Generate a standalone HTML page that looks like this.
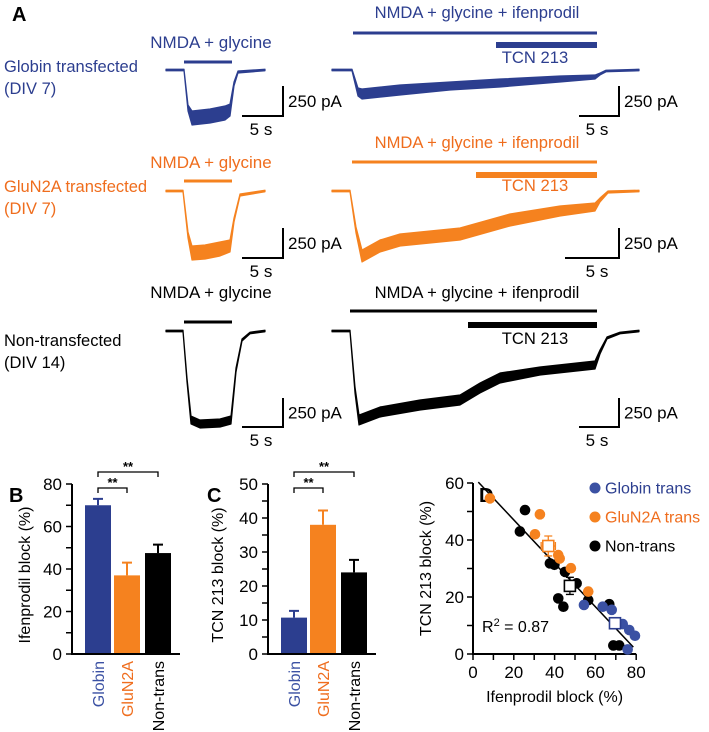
<!DOCTYPE html>
<html><head><meta charset="utf-8">
<style>
html,body{margin:0;padding:0;background:#fff;}
svg{display:block;font-family:"Liberation Sans",Arial,sans-serif;}
</style></head>
<body>
<svg id="fig" width="709" height="732" viewBox="0 0 709 732" xmlns="http://www.w3.org/2000/svg">
<g id="panelA"></g>
<g id="panelB"></g>
<g id="panelC"></g>
<g id="panelD"></g>
</svg>
<script>
// ---- Panel B/C data ----
const barCategories = ["Globin", "GluN2A", "Non-trans"];
const ifenMeans = [70, 37, 47.5];
const ifenErrors = [3, 6, 4];
const tcnMeans = [10.7, 38, 24];
const tcnErrors = [2, 4.2, 3.7];
const ifenTicks = [0, 20, 40, 60, 80];
const tcnTicks = [0, 10, 20, 30, 40, 50];
// ---- Panel D data ----
const globinX = [54.4, 63.6, 68, 73.4, 76.6, 79.4, 75.8];
const globinY = [17.2, 16.6, 15.5, 10.5, 8.4, 6.4, 1.6];
const glun2aX = [8.3, 32.8, 30.4, 41.8, 42.5, 48, 56.5];
const glun2aY = [54.6, 49, 42, 34.7, 33.5, 30.1, 21.9];
const nontransX = [25.5, 23, 37.7, 39.9, 45.1, 50.8, 41.8, 44.3, 56.5, 66.8, 68.8, 71.7];
const nontransY = [50.5, 43, 31.8, 31.3, 28.8, 24.8, 19.5, 16.6, 18.9, 17.5, 3, 3];
const meanX = [69.6, 36.9, 47.5];
const meanY = [10.8, 37.9, 23.9];
const meanXErr = [2.5, 3.5, 2];
const meanYErr = [1.5, 3.5, 3];
const fitLine = [[2.6, 60.3], [78.6, 2.4]];
const dXTicks = [0, 20, 40, 60, 80];
const dYTicks = [0, 20, 40, 60];

const NS = "http://www.w3.org/2000/svg";
function mk(parent, tag, attrs, text) {
  const e = document.createElementNS(NS, tag);
  for (const k in attrs) e.setAttribute(k, attrs[k]);
  if (text !== undefined) e.textContent = text;
  parent.appendChild(e);
  return e;
}
const BLUE = "#2c3e8f", BLUE_T = "#3b51a3", ORANGE = "#f5821f", ORANGE_T = "#ef6d1d", BLACK = "#000";

// ---------- Panel A ----------
const A = document.getElementById("panelA");
let t = mk(A, "text", {x: 12, y: 21, "font-size": 20, "font-weight": "bold"}, "A");



const rows = [
  {color: BLUE, tcol: BLUE, name: "globin", label: ["Globin transfected", " (DIV 7)"], ly: 72,
   left: [[166,70,0.8],[184,70,0.8],[188,108,3],[192,118,7],[210,116,7],[225,113,7],[230,110,6],[234,84,2],[238,72,1],[265,70,0.8]],
   right: [[332,70,0.8],[352,70,0.8],[358,92,4],[362,94,5],[400,90,5],[450,86,4],[500,83,4],[560,79,3],[595,77,2],[600,74,1],[606,71,0.8],[639,70,0.8]],
   ltext: 48, lbar: 62, rtext: 18, rbar: 33, tbar: 45, ttext: 63, tcnStart: 496, ifenStart: 353,
   sb: 86, sbBottom: 116, shL: 242, shR: 579},
  {color: ORANGE, tcol: ORANGE_T, name: "glun2a", label: ["GluN2A transfected", "(DIV 7)"], ly: 192,
   left: [[166,191,0.8],[183,191,0.8],[188,235,3],[192,253,7],[205,252,7],[220,249,7],[230,246,6],[234,220,2],[240,195,1],[265,191,0.8]],
   right: [[332,191,0.8],[350,191,0.8],[356,230,3],[362,256,6],[380,246,6],[400,240,6],[460,234,6],[510,220,6],[560,211,5],[595,207,4],[600,200,2],[608,192,1],[639,191,0.8]],
   ltext: 168, lbar: 181, rtext: 148, rbar: 162, tbar: 175, ttext: 191, tcnStart: 476, ifenStart: 352,
   sb: 228, sbBottom: 258, shL: 242, shR: 565},
  {color: BLACK, tcol: BLACK, name: "nontrans", label: ["Non-transfected", "(DIV 14)"], ly: 346,
   left: [[166,331,0.8],[183,331,0.8],[187,380,2],[191,420,4],[200,424,4],[220,423,4],[231,420,4],[236,370,2],[242,340,1],[250,333,0.8],[265,331,0.8]],
   right: [[332,331,0.8],[350,331,0.8],[355,390,3],[359,420,5],[380,412,5],[420,405,5],[460,400,5],[480,388,5],[500,378,5],[540,371,4],[595,365,4],[600,352,2],[607,338,1],[620,333,0.8],[639,331,0.8]],
   ltext: 298, lbar: 322, rtext: 298, rbar: 311, tbar: 325, ttext: 344, tcnStart: 468, ifenStart: 350,
   sb: 398, sbBottom: 427, shL: 242, shR: 579}
];

function tracePath(pts) {
  let up = pts.map(p => p[0] + "," + (p[1] - p[2]).toFixed(1));
  let dn = pts.slice().reverse().map(p => p[0] + "," + (p[1] + p[2]).toFixed(1));
  return "M" + up.join(" L") + " L" + dn.join(" L") + " Z";
}
rows.forEach((r, i) => {
  const g = mk(A, "g", {});
  
  
  r.label.forEach((s, j) => {
    const e = mk(g, "text", {x: 4, y: r.ly + j * 22, "font-size": 16.5, fill: r.tcol, "xml:space": "preserve"}, s);
    
    
  });
  let e = mk(g, "text", {x: 211, y: r.ltext, "font-size": 17, fill: r.tcol, "text-anchor": "middle"}, "NMDA + glycine");
  
  
  e = mk(g, "rect", {x: 184, y: r.lbar - 1.5, width: 48, height: 3, fill: r.color});
  
  
  e = mk(g, "text", {x: 477, y: r.rtext, "font-size": 16.6, fill: r.tcol, "text-anchor": "middle"}, "NMDA + glycine + ifenprodil");
  
  
  e = mk(g, "rect", {x: r.ifenStart, y: r.rbar - 1.5, width: 597 - r.ifenStart, height: 3, fill: r.color});
  
  
  e = mk(g, "rect", {x: r.tcnStart, y: r.tbar - 3, width: 597 - r.tcnStart, height: 6, fill: r.color});
  
  
  e = mk(g, "text", {x: 535, y: r.ttext, "font-size": 16.6, fill: r.tcol, "text-anchor": "middle"}, "TCN 213");
  
  
  [r.left, r.right].forEach((pts, k) => {
    const p = mk(g, "path", {d: tracePath(pts), fill: r.color, stroke: r.color, "stroke-width": 1.2, "stroke-linejoin": "round"});
    
    
  });
  [[283, r.shL], [619, r.shR]].forEach(([vx, hx], k) => {
    const sg = mk(g, "g", {});
    
    
    mk(sg, "path", {d: `M${vx},${r.sb} L${vx},${r.sbBottom} L${hx},${r.sbBottom}`, fill: "none", stroke: "#000", "stroke-width": 2});
    mk(sg, "text", {x: vx + 5, y: (r.sb + r.sbBottom) / 2 + 6, "font-size": 17}, "250 pA");
    mk(sg, "text", {x: vx - 22, y: r.sbBottom + 19, "font-size": 17, "text-anchor": "middle"}, "5 s");
  });
});

// ---------- Bar panels ----------
function barPanel(gid, letter, lx, axisX, yMax, ticks, minorStep, means, errs, title, titleX, brackets) {
  const G = document.getElementById(gid);
  const y0 = 654, yTop = 484;
  const ys = v => y0 - (v / yMax) * (y0 - yTop);
  const bx = [axisX + 13, axisX + 42, axisX + 73];
  const bw = 26;
  const cols = [BLUE, ORANGE, BLACK];
  const tcols = [BLUE_T, ORANGE_T, BLACK];
  let e = mk(G, "text", {x: lx, y: 502, "font-size": 20, "font-weight": "bold"}, letter);
  
  
  means.forEach((m, i) => {
    const cx = bx[i] + bw / 2;
    const eb = mk(G, "path", {d: `M${cx},${ys(m)} L${cx},${ys(m + errs[i])} M${cx - 5},${ys(m + errs[i])} L${cx + 5},${ys(m + errs[i])}`, stroke: cols[i], "stroke-width": 2, fill: "none"});
    
    
    const b = mk(G, "rect", {x: bx[i], y: ys(m), width: bw, height: y0 - ys(m), fill: cols[i]});
    
    
    const lab = mk(G, "text", {x: 0, y: 0, "font-size": 16, fill: tcols[i], "text-anchor": "end", transform: `translate(${cx + 6},${y0 + 7}) rotate(-90)`}, barCategories[i]);
    
    
  });
  e = mk(G, "path", {d: `M${axisX},${yTop} L${axisX},${y0} L${axisX + 108},${y0}`, stroke: "#000", "stroke-width": 2, fill: "none"});
  
  
  for (let v = 0; v <= yMax + 0.001; v += minorStep) {
    mk(G, "line", {x1: axisX - 6, x2: axisX, y1: ys(v), y2: ys(v), stroke: "#000", "stroke-width": 1.5});
  }
  ticks.forEach(v => {
    const tl = mk(G, "text", {x: axisX - 10, y: ys(v) + 6, "font-size": 17, "text-anchor": "end"}, String(v));
    
    
  });
  const yt = mk(G, "text", {x: 0, y: 0, "font-size": 16, "text-anchor": "middle", transform: `translate(${titleX},${(y0 + yTop) / 2 + 6}) rotate(-90)`}, title);
  
  
  brackets.forEach(([i, j, yb]) => {
    const x1 = bx[i] + bw / 2, x2 = bx[j] + bw / 2;
    const br = mk(G, "path", {d: `M${x1},${yb + 5} L${x1},${yb} L${x2},${yb} L${x2},${yb + 5}`, stroke: "#000", "stroke-width": 1.3, fill: "none"});
    
    
    const st = mk(G, "text", {x: (x1 + x2) / 2, y: yb - 1, "font-size": 13, "text-anchor": "middle", "font-weight": "bold"}, "**");
    
    
  });
}
barPanel("panelB", "B", 9, 72, 80, ifenTicks, 10, ifenMeans, ifenErrors, "Ifenprodil block (%)", 30, [[0, 1, 488], [0, 2, 472]]);
barPanel("panelC", "C", 207, 268, 50, tcnTicks, 5, tcnMeans, tcnErrors, "TCN 213 block (%)", 223, [[0, 1, 488], [0, 2, 472]]);

// ---------- Panel D ----------
(function () {
  const G = document.getElementById("panelD");
  const ox = 473, oy = 654, xs = v => ox + v * 2.04, ys = v => oy - v * 2.85;
  let e = mk(G, "text", {x: 479, y: 502, "font-size": 20, "font-weight": "bold"}, "D");
  
  
  e = mk(G, "path", {d: `M${xs(0)},${ys(60)} L${xs(0)},${oy} L${xs(80)},${oy}`, stroke: "#000", "stroke-width": 2, fill: "none"});
  
  
  for (let v = 0; v <= 60; v += 10) mk(G, "line", {x1: ox - 6, x2: ox, y1: ys(v), y2: ys(v), stroke: "#000", "stroke-width": 1.5});
  for (let v = 0; v <= 80; v += 10) mk(G, "line", {x1: xs(v), x2: xs(v), y1: oy, y2: oy + 6, stroke: "#000", "stroke-width": 1.5});
  dYTicks.forEach(v => {
    const tl = mk(G, "text", {x: ox - 9, y: ys(v) + 6, "font-size": 17, "text-anchor": "end"}, String(v));
    
    
  });
  dXTicks.forEach(v => {
    const tl = mk(G, "text", {x: xs(v), y: oy + 24, "font-size": 17, "text-anchor": "middle"}, String(v));
    
    
  });
  e = mk(G, "text", {x: 0, y: 0, "font-size": 16, "text-anchor": "middle", transform: `translate(431,${(oy + ys(60)) / 2}) rotate(-90)`}, "TCN 213 block (%)");
  
  
  e = mk(G, "text", {x: xs(40), y: 702, "font-size": 16, "text-anchor": "middle"}, "Ifenprodil block (%)");
  
  
  e = mk(G, "line", {x1: xs(fitLine[0][0]), y1: ys(fitLine[0][1]), x2: xs(fitLine[1][0]), y2: ys(fitLine[1][1]), stroke: "#000", "stroke-width": 1.5});
  
  
  const series = [[nontransX, nontransY, BLACK, 'nontrans'], [glun2aX, glun2aY, ORANGE, 'glun2a'], [globinX, globinY, BLUE_T, 'globin']];
  series.forEach(([X, Y, c, n]) => {
    X.forEach((x, i) => {
      const p = mk(G, "circle", {cx: xs(x), cy: ys(Y[i]), r: 5.3, fill: c});
      
      
    });
  });
  const mc = [BLUE, ORANGE, BLACK], mn = ['globin', 'glun2a', 'nontrans'];
  meanX.forEach((x, i) => {
    const cx = xs(x), cy = ys(meanY[i]);
    const eb = mk(G, "path", {d: `M${xs(x - meanXErr[i])},${cy} L${xs(x + meanXErr[i])},${cy} M${xs(x - meanXErr[i])},${cy - 4} L${xs(x - meanXErr[i])},${cy + 4} M${xs(x + meanXErr[i])},${cy - 4} L${xs(x + meanXErr[i])},${cy + 4} M${cx},${ys(meanY[i] - meanYErr[i])} L${cx},${ys(meanY[i] + meanYErr[i])} M${cx - 4},${ys(meanY[i] + meanYErr[i])} L${cx + 4},${ys(meanY[i] + meanYErr[i])} M${cx - 4},${ys(meanY[i] - meanYErr[i])} L${cx + 4},${ys(meanY[i] - meanYErr[i])}`, stroke: mc[i], "stroke-width": 1.3, fill: "none"});
    
    
    const sq = mk(G, "rect", {x: cx - 5.5, y: cy - 5.5, width: 11, height: 11, fill: "#fff", stroke: mc[i], "stroke-width": 1.6});
    
    
  });
  e = mk(G, "text", {x: 482, y: 632, "font-size": 16}, "");
  e.innerHTML = 'R<tspan dy="-6" font-size="11">2</tspan><tspan dy="6"> = 0.87</tspan>';
  
  
  const leg = [["Globin  trans", BLUE_T, BLUE, 488], ["GluN2A trans", ORANGE, ORANGE_T, 517], ["Non-trans", BLACK, BLACK, 546]];
  leg.forEach(([s, c, tc, y]) => {
    const lg = mk(G, "g", {});
    
    
    mk(lg, "circle", {cx: 595, cy: y, r: 5.5, fill: c});
    mk(lg, "text", {x: 605, y: y + 5.5, "font-size": 16, fill: tc, "xml:space": "preserve"}, s);
  });
})();
</script>
</body></html>
